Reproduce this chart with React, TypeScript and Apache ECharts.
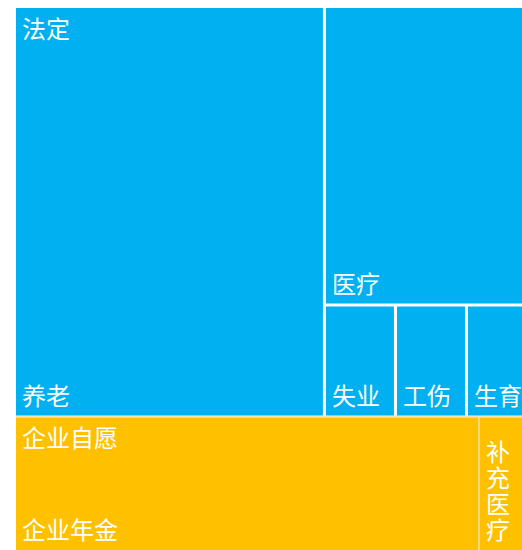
import React, { useEffect, useRef } from "react";
import * as echarts from "echarts";

// Groups (top level)
const groupNames = ["法定", "企业自愿"];
const groupColors = ["#00B0F0", "#FFC000"];

// Children of 法定
const statutoryNames = ["养老", "医疗", "失业", "工伤", "生育"];
const statutoryValues = [16, 8, 1, 1, 1];

// Children of 企业自愿
const voluntaryNames = ["企业年金", "补充医疗"];
const voluntaryValues = [8, 1];

const FONT = '"Noto Sans CJK SC", "Microsoft YaHei", sans-serif';
const CLEAR = "rgba(0,0,0,0)";

const sum = (a: number[]) => a.reduce((s, v) => s + v, 0);

export default function App() {
  const ref = useRef<HTMLDivElement>(null);

  useEffect(() => {
    if (!ref.current) return;
    const chart = echarts.init(ref.current, undefined, { renderer: "svg" });

    const groupChildren = [
      { names: statutoryNames, values: statutoryValues, gap: 3, border: "#ffffff", padBottom: 8 },
      { names: voluntaryNames, values: voluntaryValues, gap: 2, border: "#FFD97F", padBottom: 11 },
    ];

    const treeData = groupNames.map((g, gi) => ({
      name: g,
      itemStyle: {
        color: groupColors[gi],
        gapWidth: groupChildren[gi].gap,
        borderColor: groupChildren[gi].border,
        borderWidth: 0,
      },
      children: groupChildren[gi].names.map((n, i) => ({
        name: n,
        value: groupChildren[gi].values[i],
        itemStyle: { color: groupColors[gi], borderWidth: 0 },
        label: { padding: [6, 6, groupChildren[gi].padBottom, 6] },
      })),
    }));

    const overlayData = groupNames.map((g, gi) => ({
      name: g,
      value: sum(groupChildren[gi].values),
      itemStyle: { color: CLEAR, borderColor: CLEAR, borderWidth: 0 },
    }));

    const labelBase = {
      show: true,
      fontSize: 24,
      lineHeight: 26,
      color: "#fff",
      overflow: "break",
      fontFamily: FONT,
    };

    const common = {
      type: "treemap",
      left: 8,
      top: 0,
      width: 520,
      height: 544,
      roam: false,
      nodeClick: false,
      sort: false,
      squareRatio: 1,
      breadcrumb: { show: false },
      animation: false,
    };

    chart.setOption({
      animation: false,
      tooltip: { show: false },
      series: [
        {
          ...common,
          z: 1,
          data: treeData,
          levels: [
            { itemStyle: { gapWidth: 2, borderColor: "#F6E4AE", borderWidth: 0 } },
          ],
          label: { ...labelBase, padding: [6, 6, 8, 6], position: "insideBottomLeft" },
          upperLabel: { show: false },
        },
        {
          ...common,
          z: 5,
          silent: true,
          color: [CLEAR],
          data: overlayData,
          levels: [
            { itemStyle: { gapWidth: 2, borderColor: CLEAR, borderWidth: 0 } },
          ],
          itemStyle: { color: CLEAR, borderColor: CLEAR, borderWidth: 0 },
          label: { ...labelBase, padding: 6, position: "insideTopLeft" },
        },
      ],
    });

    return () => chart.dispose();
  }, []);

  return (
    <div
      style={{
        position: "fixed",
        left: 0,
        top: 0,
        width: "100vw",
        height: "100vh",
        overflow: "hidden",
        background: "#fff",
      }}
    >
      <div
        ref={ref}
        style={{ position: "absolute", left: 8, top: 8, width: 560, height: 560 }}
      />
    </div>
  );
}
